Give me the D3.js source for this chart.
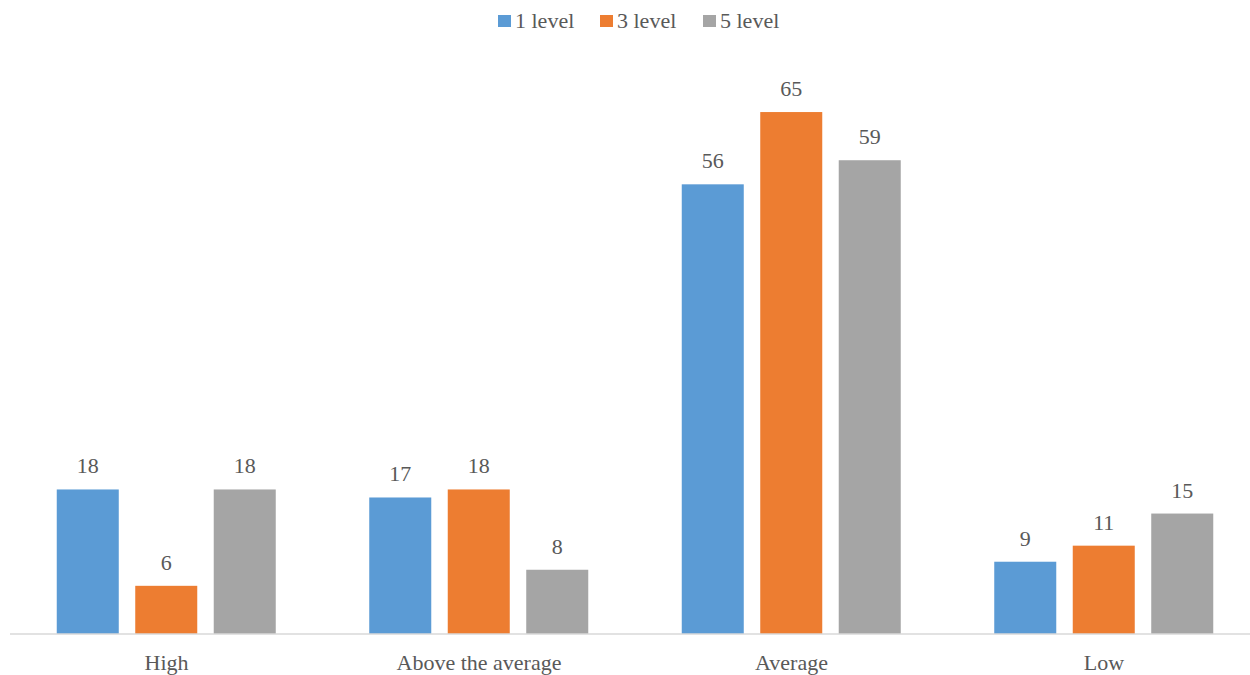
<!DOCTYPE html>
<html>
<head>
<meta charset="utf-8">
<script src="https://cdn.jsdelivr.net/npm/d3@7"></script>
<style>
  html, body { margin: 0; padding: 0; background: #fff; }
  svg { display: block; }
</style>
</head>
<body>
<svg id="chart" width="1250" height="675"></svg>
<script>
const categories = ["High", "Above the average", "Average", "Low"];
const seriesNames = ["1 level", "3 level", "5 level"];
const level1 = [18, 17, 56, 9];
const level3 = [6, 18, 65, 11];
const level5 = [18, 8, 59, 15];
const colors = ["#5B9BD5", "#ED7D31", "#A5A5A5"];

const FONT = "'Times New Roman', Times, Tinos, 'Liberation Serif', 'Noto Serif', 'DejaVu Serif', Georgia, serif";
const TXT = "#595959";
const seriesValues = [level1, level3, level5];
const svg = d3.select("#chart");
const baseY = 634;

const x0 = d3.scaleBand().domain(categories).range([10.25, 1260.25]).padding(0);
const x1 = d3.scaleBand().domain(seriesNames).range([46.5, 265.5]).paddingInner(0.21).paddingOuter(0);
const y = d3.scaleLinear().domain([0, 70]).range([baseY, baseY - 70 * 8.03]);
const color = d3.scaleOrdinal().domain(seriesNames).range(colors);

const data = categories.map((c, i) => ({
  cat: c,
  vals: seriesNames.map((s, j) => ({ s, v: seriesValues[j][i] }))
}));

const groups = svg.append("g").selectAll("g").data(data).join("g")
  .attr("transform", d => `translate(${x0(d.cat)},0)`);

groups.selectAll("rect").data(d => d.vals).join("rect")
  .attr("x", d => x1(d.s))
  .attr("y", d => y(d.v))
  .attr("width", x1.bandwidth())
  .attr("height", d => y(0) - y(d.v))
  .attr("fill", d => color(d.s));

groups.selectAll("text.val").data(d => d.vals).join("text")
  .attr("class", "val")
  .attr("x", d => x1(d.s) + x1.bandwidth() / 2)
  .attr("y", d => y(d.v) - 16)
  .attr("text-anchor", "middle")
  .style("font-family", FONT)
  .attr("font-size", 22)
  .attr("fill", TXT)
  .text(d => d.v);

// x axis
const xAxis = d3.axisBottom(x0).tickSize(0).tickPadding(0);
const axisG = svg.append("g").attr("transform", `translate(0,${baseY})`).call(xAxis);
axisG.attr("font-size", 22);
axisG.select(".domain").remove();
axisG.append("line").attr("x1", 10).attr("x2", 1250).attr("y1", 0).attr("y2", 0)
  .attr("stroke", "#D9D9D9").attr("stroke-width", 1.5);
axisG.selectAll(".tick text")
  .attr("dy", null)
  .attr("y", 36)
  .style("font-family", FONT)
  .attr("font-size", 22)
  .attr("fill", TXT);

// legend
const legendX = [498, 600, 703];
const legend = svg.append("g").selectAll("g").data(seriesNames).join("g")
  .attr("transform", (d, i) => `translate(${legendX[i]},0)`);
legend.append("rect").attr("x", 0).attr("y", 15).attr("width", 13).attr("height", 12)
  .attr("fill", d => color(d));
legend.append("text").attr("x", 17).attr("y", 28)
  .style("font-family", FONT).attr("font-size", 22).attr("fill", TXT)
  .text(d => d);
</script>
</body>
</html>
